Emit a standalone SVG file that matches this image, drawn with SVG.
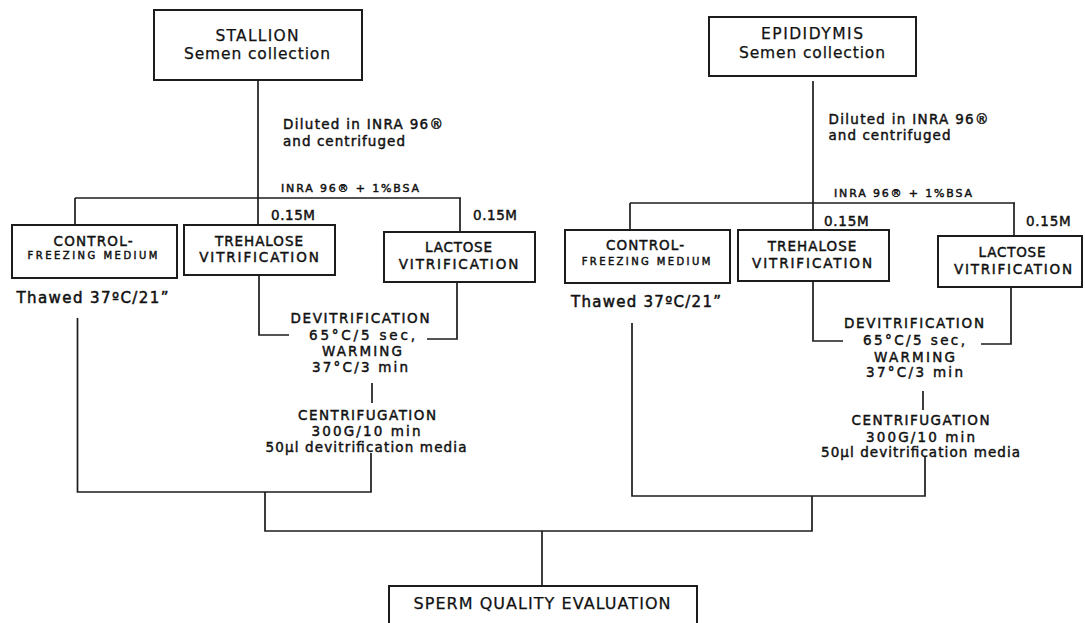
<svg xmlns="http://www.w3.org/2000/svg" width="1085" height="623" viewBox="0 0 1085 623">
<style>
  .box { fill: #fff; stroke: #1c1c1c; stroke-width: 2; }
  .ln { fill: none; stroke: #1c1c1c; stroke-width: 1.7; }
  text { font-family: "DejaVu Sans", Verdana, sans-serif; fill: #111; }
  .t { font-size: 15.5px; stroke: #111; stroke-width: 0.25; }
  .b { font-size: 13.5px; stroke: #111; stroke-width: 0.45; }
  .s { font-size: 11px; stroke: #111; stroke-width: 0.45; }
  .xs { font-size: 10px; stroke: #111; stroke-width: 0.45; }
  .th { font-size: 15px; stroke: #111; stroke-width: 0.5; }
  .m { text-anchor: middle; }
</style>
<rect width="1085" height="623" fill="#fff"/>
<g id="connectors">
  <path class="ln" d="M258,80 V225"/>
  <path class="ln" d="M75,198 H461"/>
  <path class="ln" d="M75,198 V225"/>
  <path class="ln" d="M460,198 V232"/>
  <path class="ln" d="M77.5,318 V492 H371 V453"/>
  <path class="ln" d="M259,275 V335 H289"/>
  <path class="ln" d="M457,282 V339 H427"/>
  <path class="ln" d="M372,383 V403"/>
  <path class="ln" d="M813,81 V230"/>
  <path class="ln" d="M630,203 H1015"/>
  <path class="ln" d="M630,203 V230"/>
  <path class="ln" d="M1014,203 V236"/>
  <path class="ln" d="M632,323 V496 H925 V457"/>
  <path class="ln" d="M813,281 V341 H843"/>
  <path class="ln" d="M1011,287 V344 H981"/>
  <path class="ln" d="M923,391 V410"/>
  <path class="ln" d="M265,492 V531 H812 V496"/>
  <path class="ln" d="M542,531 V586"/>
</g>
<g id="labels">
  <text class="b" x="283" y="129" textLength="160" lengthAdjust="spacing">Diluted in INRA 96®</text>
  <text class="b" x="283" y="146" textLength="122" lengthAdjust="spacing">and centrifuged</text>
  <text class="s" x="281" y="192" textLength="138" lengthAdjust="spacing">INRA 96® + 1%BSA</text>
  <text class="b" x="271" y="220" textLength="44" lengthAdjust="spacing">0.15M</text>
  <text class="b" x="473" y="220" textLength="44" lengthAdjust="spacing">0.15M</text>
  <text class="th" x="16.5" y="303" textLength="152" lengthAdjust="spacing">Thawed 37ºC/21”</text>
  <text class="b m" x="360" y="323" textLength="139" lengthAdjust="spacing">DEVITRIFICATION</text>
  <text class="b m" x="362" y="340" textLength="106" lengthAdjust="spacing">65°C/5 sec,</text>
  <text class="b m" x="362" y="356" textLength="80" lengthAdjust="spacing">WARMING</text>
  <text class="b m" x="360" y="372" textLength="96" lengthAdjust="spacing">37°C/3 min</text>
  <text class="b m" x="367" y="420" textLength="138" lengthAdjust="spacing">CENTRIFUGATION</text>
  <text class="b m" x="366" y="436" textLength="109" lengthAdjust="spacing">300G/10 min</text>
  <text class="b m" x="366" y="452" textLength="201" lengthAdjust="spacing">50µl devitrification media</text>

  <text class="b" x="828.5" y="124" textLength="160" lengthAdjust="spacing">Diluted in INRA 96®</text>
  <text class="b" x="828.5" y="140" textLength="122" lengthAdjust="spacing">and centrifuged</text>
  <text class="s" x="834" y="197" textLength="138" lengthAdjust="spacing">INRA 96® + 1%BSA</text>
  <text class="b" x="824" y="226" textLength="44.7" lengthAdjust="spacing">0.15M</text>
  <text class="b" x="1026" y="226" textLength="44.7" lengthAdjust="spacing">0.15M</text>
  <text class="th" x="571" y="307" textLength="150" lengthAdjust="spacing">Thawed 37ºC/21”</text>
  <text class="b m" x="914" y="328" textLength="140" lengthAdjust="spacing">DEVITRIFICATION</text>
  <text class="b m" x="914" y="345" textLength="102" lengthAdjust="spacing">65°C/5 sec,</text>
  <text class="b m" x="914.5" y="362" textLength="81" lengthAdjust="spacing">WARMING</text>
  <text class="b m" x="914.5" y="377" textLength="97" lengthAdjust="spacing">37°C/3 min</text>
  <text class="b m" x="920.5" y="425" textLength="138" lengthAdjust="spacing">CENTRIFUGATION</text>
  <text class="b m" x="920.5" y="442" textLength="109" lengthAdjust="spacing">300G/10 min</text>
  <text class="b m" x="920.5" y="457" textLength="199" lengthAdjust="spacing">50µl devitrification media</text>
</g>
<g id="stallion">
  <rect class="box" x="154" y="10" width="208" height="70"/>
  <text class="t m" x="257" y="41" textLength="83" lengthAdjust="spacing">STALLION</text>
  <text class="t m" x="257" y="59" textLength="146" lengthAdjust="spacing">Semen collection</text>
</g>
<g id="epididymis">
  <rect class="box" x="709" y="17" width="207" height="59"/>
  <text class="t m" x="812" y="39" textLength="102" lengthAdjust="spacing">EPIDIDYMIS</text>
  <text class="t m" x="812" y="58" textLength="146" lengthAdjust="spacing">Semen collection</text>
</g>
<g id="control-left">
  <rect class="box" x="12" y="225" width="165" height="53"/>
  <text class="b m" x="93" y="246" textLength="79" lengthAdjust="spacing">CONTROL-</text>
  <text class="xs m" x="92.5" y="259" textLength="130" lengthAdjust="spacing">FREEZING MEDIUM</text>
</g>
<g id="trehalose-left">
  <rect class="box" x="184" y="225" width="151" height="50"/>
  <text class="b m" x="259" y="246" textLength="88" lengthAdjust="spacing">TREHALOSE</text>
  <text class="b m" x="259" y="262" textLength="119.5" lengthAdjust="spacing">VITRIFICATION</text>
</g>
<g id="lactose-left">
  <rect class="box" x="384" y="232" width="151" height="50"/>
  <text class="b m" x="458.5" y="252" textLength="67" lengthAdjust="spacing">LACTOSE</text>
  <text class="b m" x="458.5" y="269" textLength="119.5" lengthAdjust="spacing">VITRIFICATION</text>
</g>
<g id="control-right">
  <rect class="box" x="565" y="230" width="165" height="53"/>
  <text class="b m" x="645" y="250" textLength="78" lengthAdjust="spacing">CONTROL-</text>
  <text class="xs m" x="646" y="265" textLength="128.6" lengthAdjust="spacing">FREEZING MEDIUM</text>
</g>
<g id="trehalose-right">
  <rect class="box" x="738" y="230" width="151" height="51"/>
  <text class="b m" x="812" y="251" textLength="88.6" lengthAdjust="spacing">TREHALOSE</text>
  <text class="b m" x="812" y="268" textLength="120" lengthAdjust="spacing">VITRIFICATION</text>
</g>
<g id="lactose-right">
  <rect class="box" x="938" y="236" width="144" height="51"/>
  <text class="b m" x="1012" y="257" textLength="67" lengthAdjust="spacing">LACTOSE</text>
  <text class="b m" x="1013" y="274" textLength="118" lengthAdjust="spacing">VITRIFICATION</text>
</g>
<g id="sperm-quality">
  <rect class="box" x="389" y="586" width="308" height="50"/>
  <text class="m" x="542" y="609" font-size="16" stroke="#111" stroke-width="0.25" textLength="257" lengthAdjust="spacing">SPERM QUALITY EVALUATION</text>
</g>
</svg>
